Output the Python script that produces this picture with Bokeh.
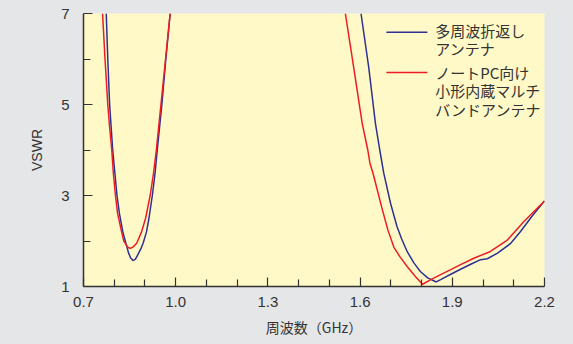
from bokeh.plotting import figure
from bokeh.embed import file_html
from bokeh.resources import INLINE
from bokeh.models import FixedTicker, PrintfTickFormatter, ColumnDataSource
from bokeh.core.properties import value

# ---------------- data ----------------
# 多周波折返しアンテナ (blue)
blue_low_f = [0.774, 0.779, 0.785, 0.790, 0.795, 0.802, 0.809, 0.817, 0.828, 0.838, 0.846, 0.853, 0.861,
              0.869, 0.877, 0.888, 0.894, 0.905, 0.913, 0.924, 0.933, 0.940, 0.955, 0.968, 0.982]
blue_low_v = [7.00, 6.00, 5.00, 4.50, 4.00, 3.50, 3.00, 2.60, 2.20, 1.95, 1.75, 1.63, 1.57,
              1.60, 1.70, 1.85, 1.95, 2.20, 2.50, 3.00, 3.50, 4.00, 5.00, 6.00, 7.00]
blue_high_f = [1.603, 1.628, 1.650, 1.664, 1.677, 1.699, 1.720, 1.735, 1.753, 1.775, 1.796, 1.820, 1.848,
               1.862, 1.895, 1.927, 1.960, 1.992, 2.014, 2.046, 2.089, 2.122, 2.160, 2.200]
blue_high_v = [7.00, 5.82, 4.58, 4.00, 3.49, 2.83, 2.32, 2.05, 1.77, 1.52, 1.33, 1.19, 1.10,
               1.15, 1.27, 1.38, 1.49, 1.59, 1.61, 1.73, 1.94, 2.21, 2.55, 2.88]

# ノートPC向け小形内蔵マルチバンドアンテナ (red)
red_low_f = [0.762, 0.770, 0.779, 0.785, 0.792, 0.797, 0.804, 0.811, 0.824, 0.831, 0.836, 0.842, 0.847, 0.852,
             0.860, 0.873, 0.889, 0.902, 0.917, 0.928, 0.937, 0.952, 0.967, 0.982]
red_low_v = [7.00, 6.00, 5.00, 4.50, 4.00, 3.50, 3.00, 2.60, 2.20, 2.00, 1.95, 1.88, 1.85, 1.84,
             1.86, 1.95, 2.20, 2.50, 3.00, 3.50, 4.00, 5.00, 6.00, 7.00]
red_high_f = [1.552, 1.579, 1.607, 1.625, 1.632, 1.642, 1.670, 1.690, 1.710, 1.730, 1.753, 1.780, 1.803,
              1.830, 1.862, 1.895, 1.927, 1.970, 2.024, 2.079, 2.133, 2.200]
red_high_v = [7.00, 5.82, 4.58, 4.00, 3.71, 3.49, 2.75, 2.25, 1.86, 1.65, 1.44, 1.22, 1.05,
              1.15, 1.26, 1.37, 1.48, 1.62, 1.77, 2.02, 2.43, 2.88]

x_major = [0.7, 1.0, 1.3, 1.6, 1.9, 2.2]
x_minor = [0.8, 0.9, 1.1, 1.2, 1.4, 1.5, 1.7, 1.8, 2.0, 2.1]
y_major = [1, 3, 5, 7]
y_minor = [2, 4, 6]

legend_blue = ["多周波折返し", "アンテナ"]
legend_red = ["ノートPC向け", "小形内蔵マルチ", "バンドアンテナ"]

BLUE = "#2e3192"
RED = "#ed1c24"
BG = "#e5e6e8"
PLOT_BG = "#fff9c8"
INK = "#333333"

p = figure(frame_width=461, frame_height=273,
           x_range=(0.7, 2.2), y_range=(1, 7),
           output_backend="svg", toolbar_location=None,
           min_border_left=83, min_border_right=29,
           min_border_top=13, min_border_bottom=57)

p.background_fill_color = PLOT_BG
p.border_fill_color = BG
p.outline_line_color = None
p.grid.visible = False

for f, v, c in [(blue_low_f, blue_low_v, BLUE), (blue_high_f, blue_high_v, BLUE),
                (red_low_f, red_low_v, RED), (red_high_f, red_high_v, RED)]:
    p.line(f, v, line_color=c, line_width=1.5)

# axes
xa = p.xaxis[0]
xa.ticker = FixedTicker(ticks=x_major, minor_ticks=x_minor)
xa.formatter = PrintfTickFormatter(format="%.1f")
ya = p.yaxis[0]
ya.ticker = FixedTicker(ticks=y_major, minor_ticks=y_minor)
ya.formatter = PrintfTickFormatter(format="%d")

for ax in (xa, ya):
    ax.axis_line_color = INK
    ax.axis_line_width = 1.5
    ax.major_tick_line_color = INK
    ax.minor_tick_line_color = INK
    ax.major_tick_line_width = 1.2
    ax.minor_tick_line_width = 1.2
    ax.major_tick_out = 0
    ax.minor_tick_out = 0
    ax.major_tick_in = 9
    ax.minor_tick_in = 7
    ax.major_label_text_font = "Liberation Sans"
    ax.major_label_text_font_size = "15px"
    ax.major_label_text_color = INK
    ax.axis_label_text_color = INK
    ax.axis_label_text_font_style = "normal"

xa.major_label_standoff = 10
xa.axis_label = "周波数（GHz）"
xa.axis_label_text_font = "Noto Sans CJK JP"
xa.axis_label_text_font_size = "14px"
xa.axis_label_standoff = 7

ya.major_label_standoff = 14
ya.axis_label = "VSWR"
ya.axis_label_text_font = "Liberation Sans"
ya.axis_label_text_font_size = "14px"
ya.axis_label_standoff = 13

# manual legend (positions as fractions of the frame)
def fx(frac):
    return 0.7 + frac * (2.2 - 0.7)

def fy(frac):
    return 1 + frac * (7 - 1)

line_x0, line_x1, text_x = fx(0.657), fx(0.746), fx(0.763)
p.line([line_x0, line_x1], [fy(0.931), fy(0.931)], line_color=BLUE, line_width=1.5)
p.line([line_x0, line_x1], [fy(0.784), fy(0.784)], line_color=RED, line_width=1.5)

ty = [fy(0.937), fy(0.872)] + [fy(0.784), fy(0.718), fy(0.650)]
src = ColumnDataSource(dict(x=[text_x] * 5, y=ty, t=legend_blue + legend_red))
p.text(x="x", y="y", text="t", source=src, text_font=value("Noto Sans CJK JP"),
       text_font_size="15px", text_color=INK, text_baseline="middle", text_align="left")

html = file_html(p, INLINE)
html = html.replace("</head>", "<style>html, body { background-color: %s; }</style></head>" % BG, 1)
open("out.html", "w").write(html)
